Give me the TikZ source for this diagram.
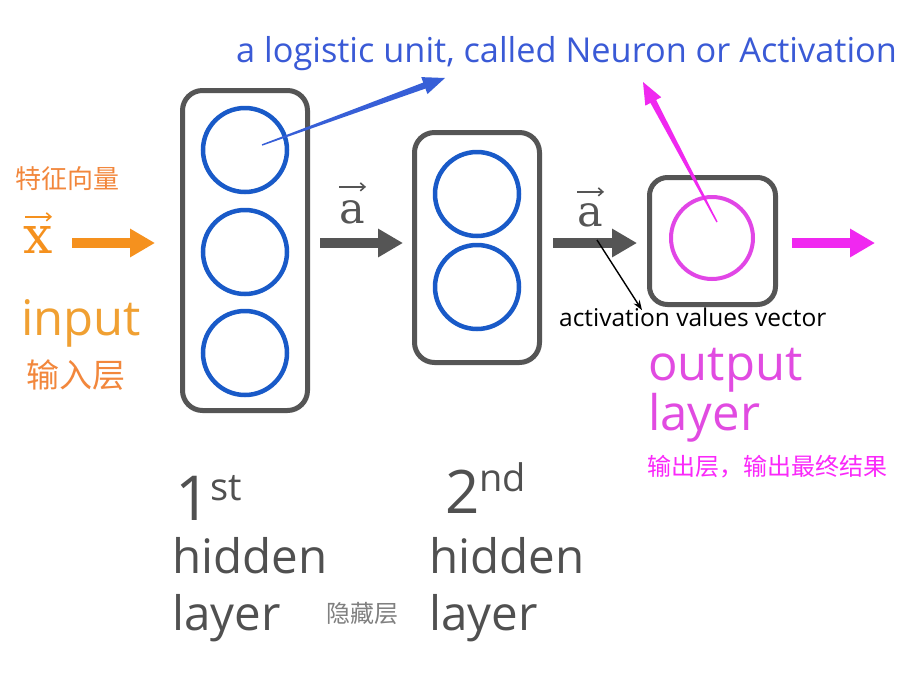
\documentclass[tikz,border=0pt]{standalone}
\usepackage{fontspec}
\setmainfont{Open Sans}
\newfontfamily\cjk{Noto Sans CJK SC}
\newfontfamily\serifx{DejaVu Serif}
\usetikzlibrary{arrows.meta,calc}
\definecolor{boxgray}{RGB}{85,85,85}
\definecolor{txtgray}{RGB}{80,80,80}
\definecolor{lightgray2}{RGB}{128,128,128}
\definecolor{neuronblue}{RGB}{25,90,200}
\definecolor{labelblue}{RGB}{58,90,214}
\definecolor{arrowblue}{RGB}{55,95,215}
\definecolor{neuronpink}{RGB}{225,70,230}
\definecolor{outpink}{RGB}{225,75,225}
\definecolor{cnpink}{RGB}{250,40,250}
\definecolor{arrowpink}{RGB}{240,40,240}
\definecolor{inorange}{RGB}{245,145,30}
\definecolor{cnorange}{RGB}{242,135,60}
\definecolor{inputorange}{RGB}{240,160,50}
\tikzset{
 layerbox/.style={draw=boxgray,line width=5pt,rounded corners=20pt,rectangle,inner sep=0pt},
 neuron/.style={draw=neuronblue,line width=4.5pt,circle,inner sep=0pt,minimum size=84pt},
 outneuron/.style={draw=neuronpink,line width=4pt,circle,inner sep=0pt,minimum size=82pt},
 fatarrow/.style={line width=10pt,-{Triangle[length=25pt,width=27pt]}},
 lbl/.style={inner sep=0pt,anchor=base west},
 vecarrow/.style={line width=1.6pt,-{Straight Barb[length=4.5pt,width=8pt]}},
}
\newcommand\taperarrow[3]{%
 \coordinate (tapH) at ($(#3)!22pt!(#2)$);
 \fill[#1] ($(#2)!0.7pt!90:(#3)$) -- ($(tapH)!3.2pt!90:(#3)$) -- ($(tapH)!9pt!90:(#3)$) -- (#3)
   -- ($(tapH)!9pt!-90:(#3)$) -- ($(tapH)!3.2pt!-90:(#3)$) -- ($(#2)!0.7pt!-90:(#3)$) -- cycle;}
\begin{document}
\begin{tikzpicture}[x=1pt,y=-1pt]
\useasboundingbox (0,0) rectangle (924,683);
\fill[white] (0,0) rectangle (924,683);

% layer boxes
\node[layerbox,minimum width=125pt,minimum height=320pt] (box1) at (245,250.5) {};
\node[layerbox,minimum width=125pt,minimum height=230pt] (box2) at (477,247.5) {};
\node[layerbox,rounded corners=18pt,minimum width=126pt,minimum height=127pt] (box3) at (712.5,241) {};

% neurons
\node[neuron] (n11) at (245,150) {};
\node[neuron] (n12) at (245,252) {};
\node[neuron] (n13) at (245,353) {};
\node[neuron] (n21) at (477,194) {};
\node[neuron] (n22) at (477,287) {};
\node[outneuron] (n31) at (712,238) {};

% fat arrows
\coordinate (xin) at (72,243);
\coordinate (yout) at (875,243);
\draw[fatarrow,inorange,shorten >=25pt] (xin) -- ([yshift=7.5pt]box1.west);
\draw[fatarrow,boxgray,shorten <=10pt,shorten >=9pt] ([yshift=7.5pt]box1.east) -- ([yshift=4.5pt]box2.west);
\draw[fatarrow,boxgray,shorten <=11pt,shorten >=10pt] ([yshift=4.5pt]box2.east) -- ([yshift=-2pt]box3.west);
\draw[fatarrow,arrowpink,shorten <=14pt] ([yshift=-2pt]box3.east) -- (yout);

% left labels
\node[lbl,font=\cjk\fontsize{26}{30}\selectfont,text=cnorange,anchor=west] (cn1) at (15,179) {特征向量};
\node[lbl,anchor=base,font=\serifx\fontsize{52}{56}\selectfont,text=inorange] (xvec) at (38,253) {x};
\draw[vecarrow,inorange] ([xshift=-13pt,yshift=9pt]xvec.north) -- ([xshift=14pt,yshift=9pt]xvec.north);
\node[lbl,font=\fontsize{49}{52}\selectfont,text=inputorange] (inp) at (21,335) {input};
\node[lbl,font=\cjk\fontsize{33}{36}\selectfont,text=cnorange,anchor=west] (cn2) at (26,375) {输入层};

% a vectors
\node[lbl,anchor=base,font=\serifx\fontsize{43}{48}\selectfont,text=boxgray] (avec1) at (352,223) {a};
\draw[vecarrow,boxgray] ([xshift=-13pt,yshift=13pt]avec1.north) -- ([xshift=14pt,yshift=13pt]avec1.north);
\node[lbl,anchor=base,font=\serifx\fontsize{43}{48}\selectfont,text=boxgray] (avec2) at (590,226) {a};
\draw[vecarrow,boxgray] ([xshift=-13pt,yshift=11pt]avec2.north) -- ([xshift=14pt,yshift=11pt]avec2.north);

% activation values vector
\node[lbl,font=\fontsize{24.5}{28}\selectfont,text=black] (act) at (559,326) {activation values vector};
\coordinate (actS) at (597,240);
\draw[line width=1.4pt,-{Stealth[length=10pt,width=7pt]}] (actS) -- ([xshift=83pt,yshift=-3pt]act.north west);

% top label and tapered arrows
\node[lbl,font=\fontsize{34.3}{38}\selectfont,text=labelblue] (top) at (236,62) {a logistic unit, called Neuron or Activation};
\coordinate (blueS) at (262,145);
\coordinate (blueT) at (445,78);
\coordinate (pinkS) at (717,222);
\coordinate (pinkT) at (643,82);
\taperarrow{arrowblue}{blueS}{blueT}
\taperarrow{arrowpink}{pinkS}{pinkT}

% output labels
\node[lbl,font=\fontsize{49}{52}\selectfont,text=outpink] (outl1) at (648,380) {output};
\node[lbl,font=\fontsize{49}{52}\selectfont,text=outpink] (outl2) at (648,430) {layer};
\node[lbl,font=\cjk\fontsize{24}{26}\selectfont,text=cnpink,anchor=west] (cn3) at (647,467) {输出层，输出最终结果};

% hidden layer labels
\node[lbl,font=\fontsize{62}{64}\selectfont,text=txtgray] (first) at (175,520) {1\raisebox{20pt}{\fontsize{38}{40}\selectfont st}};
\node[lbl,font=\fontsize{47.5}{50}\selectfont,text=txtgray] (h1a) at (172,573) {hidden};
\node[lbl,font=\fontsize{47.5}{50}\selectfont,text=txtgray] (h1b) at (172,630) {layer};
\node[lbl,font=\cjk\fontsize{24}{26}\selectfont,text=lightgray2,anchor=west] (cn4) at (326,613) {隐藏层};
\node[lbl,font=\fontsize{60}{64}\selectfont,text=txtgray] (second) at (445,513) {2\raisebox{22pt}{\fontsize{38}{40}\selectfont nd}};
\node[lbl,font=\fontsize{47.5}{50}\selectfont,text=txtgray] (h2a) at (429,573) {hidden};
\node[lbl,font=\fontsize{47.5}{50}\selectfont,text=txtgray] (h2b) at (429,630) {layer};
\end{tikzpicture}
\end{document}
